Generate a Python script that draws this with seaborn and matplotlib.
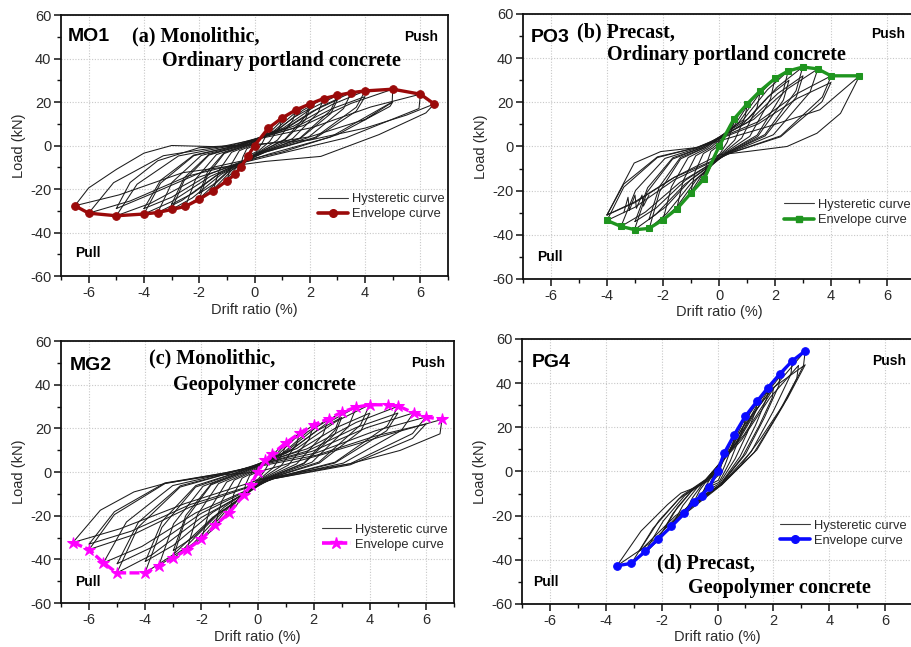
import matplotlib
matplotlib.use("Agg")
import matplotlib.pyplot as plt
import pandas as pd
import seaborn as sns
from matplotlib.lines import Line2D
from matplotlib.ticker import MultipleLocator

sns.set_style("ticks")
plt.rcParams["font.family"] = ["Liberation Sans", "DejaVu Sans"]
plt.rcParams["axes.unicode_minus"] = False

# ---------------- data: envelope curves ----------------
a_env_x = [-6.5, -6.0, -5.0, -4.0, -3.5, -3.0, -2.5, -2.0, -1.5, -1.0, -0.7, -0.5, -0.25, 0.0,
           0.5, 1.0, 1.5, 2.0, 2.5, 3.0, 3.5, 4.0, 5.0, 6.0, 6.5]
a_env_y = [-27.7, -31.1, -32.3, -31.5, -30.8, -29.4, -28.0, -24.7, -20.8, -16.2, -13.2, -10.1, -5.0, 0.0,
           8.0, 12.7, 16.4, 19.1, 21.6, 23.1, 24.3, 25.1, 25.9, 23.6, 19.1]

b_env_x = [-4.0, -3.5, -3.0, -2.5, -2.0, -1.5, -1.0, -0.53, 0.0, 0.53, 1.0, 1.48, 2.0, 2.47, 3.0, 3.53, 4.0, 5.0]
b_env_y = [-33.5, -36.2, -37.7, -37.1, -33.2, -28.2, -21.1, -14.6, 0.0, 12.4, 19.2, 25.3, 30.8, 34.2, 36.0, 35.1, 32.0, 32.0]

c_env_x = [-6.58, -6.0, -5.49, -5.01, -4.01, -3.52, -3.02, -2.52, -2.0, -1.51, -1.0, -0.5, -0.24, 0.0,
           0.27, 0.51, 1.01, 1.5, 2.0, 2.53, 3.0, 3.52, 3.99, 4.63, 5.02, 5.56, 6.0, 6.57]
c_env_y = [-32.3, -35.5, -41.6, -46.2, -46.2, -43.0, -39.6, -35.5, -30.9, -24.4, -18.6, -10.7, -6.1, 0.0,
           5.3, 8.1, 13.4, 17.8, 21.6, 24.4, 27.4, 29.7, 30.8, 30.8, 30.2, 27.1, 25.2, 24.1]

d_env_x = [-3.6, -3.08, -2.59, -2.12, -1.65, -1.19, -0.84, -0.57, -0.3, 0.0,
           0.24, 0.6, 0.99, 1.41, 1.81, 2.24, 2.68, 3.14]
d_env_y = [-42.7, -41.6, -36.2, -30.5, -24.9, -19.0, -13.6, -10.9, -7.1, 0.0,
           8.3, 16.6, 24.9, 31.7, 38.0, 44.3, 50.1, 54.6]

# ---------------- data: hysteretic loops (vertices) ----------------
a_loop_x = [
    [-0.5, -0.43, -0.28, -0.1, 0.18, 0.35, 0.5, 0.46, 0.28, 0.05, -0.2, -0.38, -0.5],
    [-1, -0.85, -0.55, -0.2, 0.35, 0.7, 1, 0.92, 0.55, 0.1, -0.4, -0.75, -1],
    [-1.5, -1.28, -0.83, -0.3, 0.53, 1.05, 1.5, 1.38, 0.83, 0.15, -0.6, -1.13, -1.5],
    [-2, -1.7, -1.1, -0.4, 0.7, 1.4, 2, 1.84, 1.1, 0.2, -0.8, -1.5, -2],
    [-2, -1.7, -1.1, -0.4, 0.7, 1.4, 2, 1.84, 1.1, 0.2, -0.8, -1.5, -2],
    [-2.5, -2.13, -1.38, -0.5, 0.88, 1.75, 2.5, 2.3, 1.38, 0.25, -1, -1.88, -2.5],
    [-3, -2.55, -1.65, -0.6, 1.05, 2.1, 3, 2.76, 1.65, 0.3, -1.2, -2.25, -3],
    [-3, -2.55, -1.65, -0.6, 1.05, 2.1, 3, 2.76, 1.65, 0.3, -1.2, -2.25, -3],
    [-3.5, -2.98, -1.93, -0.7, 1.23, 2.45, 3.5, 3.22, 1.93, 0.35, -1.4, -2.63, -3.5],
    [-4, -3.4, -2.2, -0.8, 1.4, 2.8, 4, 3.68, 2.2, 0.4, -1.6, -3, -4],
    [-4, -3.4, -2.2, -0.8, 1.4, 2.8, 4, 3.68, 2.2, 0.4, -1.6, -3, -4],
    [-5, -4.25, -2.75, -1, 1.75, 3.5, 5, 4.98, 2.75, 0.5, -2, -3.75, -5],
    [-6, -5.1, -3.3, -1.2, 2.1, 4.2, 6, 5.95, 3.3, 0.5, -2.4, -4.5, -6],
    [-6.5, -6, -5, -4, -3, -1.5, 0, 2, 4, 5.5, 6.5, 6.2, 4.5, 2.4, 0.4, -2.6, -4.9, -6.5],
    [-5, -4.5, -3.5, -2, 0, 2, 4, 5, 4.9, 3, 1, -1.5, -3.5, -5],
]
a_loop_y = [
    [-10, -5.5, -1.5, -0.5, 2.8, 6, 8, 5.6, 1.2, -3, -4.5, -8.2, -10],
    [-16.2, -8.9, -2.4, -0.5, 4.4, 9.5, 12.7, 8.9, 1.9, -3, -7.3, -13.3, -16.2],
    [-20.8, -11.4, -3.1, -0.5, 5.7, 12.3, 16.4, 11.5, 2.5, -3, -9.4, -17.1, -20.8],
    [-24.7, -13.6, -3.7, -0.5, 6.7, 14.3, 19.1, 13.4, 2.9, -3, -11.1, -20.3, -24.7],
    [-22, -12.1, -3.3, -0.5, 6, 12.8, 17, 11.9, 2.6, -3, -9.9, -18, -22],
    [-28, -15.4, -4.2, -0.5, 7.6, 16.2, 21.6, 15.1, 3.2, -3, -12.6, -23, -28],
    [-29.4, -16.2, -4.4, -0.5, 8.1, 17.3, 23.1, 16.2, 3.5, -3, -13.2, -24.1, -29.4],
    [-27, -14.9, -4.1, -0.5, 7.4, 15.8, 21, 14.7, 3.2, -3, -12.2, -22.1, -27],
    [-30.8, -16.9, -4.6, -0.5, 8.5, 18.2, 24.3, 17, 3.6, -3, -13.9, -25.3, -30.8],
    [-31.5, -17.3, -4.7, -0.5, 8.8, 18.8, 25.1, 17.6, 3.8, -3, -14.2, -25.8, -31.5],
    [-29, -16, -4.4, -0.5, 7.9, 16.9, 22.5, 15.8, 3.4, -3, -13, -23.8, -29],
    [-32.3, -17.8, -4.8, -0.5, 9.1, 19.4, 25.9, 20, 3.9, -4, -14.5, -26.5, -32.3],
    [-31.1, -17.1, -4.7, -0.5, 8.3, 17.7, 23.6, 17, 3.5, -5, -14, -25.5, -31.1],
    [-27.7, -19.5, -11, -3.5, 0, -0.5, 0.5, 2.5, 8, 14, 19.1, 15, 5, -5, -7.3, -12.5, -22.7, -27.7],
    [-29, -17, -7, -1, 0, 4, 12, 20, 18, 5, -3, -10, -21, -29],
]

b_loop_x = [
    [-0.53, -0.45, -0.29, -0.11, 0.19, 0.37, 0.53, 0.49, 0.29, 0.05, -0.21, -0.4, -0.53],
    [-1.01, -0.86, -0.56, -0.2, 0.35, 0.71, 1.01, 0.93, 0.56, 0.1, -0.4, -0.76, -1.01],
    [-1.51, -1.28, -0.83, -0.3, 0.52, 1.04, 1.48, 1.36, 0.81, 0.15, -0.6, -1.13, -1.51],
    [-2, -1.7, -1.1, -0.4, 0.7, 1.4, 2, 1.84, 1.1, 0.2, -0.8, -1.5, -2],
    [-2.49, -2.12, -1.37, -0.5, 0.86, 1.73, 2.47, 2.27, 1.36, 0.25, -1, -1.87, -2.49],
    [-2.5, -2.13, -1.38, -0.5, 0.88, 1.75, 2.5, 2.3, 1.38, 0.25, -1, -1.88, -2.5],
    [-3.02, -2.57, -1.66, -0.6, 1.05, 2.09, 2.99, 2.75, 1.64, 0.3, -1.21, -2.27, -3.02],
    [-3, -2.55, -1.65, -0.6, 1.05, 2.1, 3, 2.76, 1.65, 0.3, -1.2, -2.25, -3],
    [-3.5, -2.98, -1.93, -0.7, 1.24, 2.47, 3.53, 3.25, 1.94, 0.35, -1.4, -2.63, -3.5],
    [-4, -3.4, -2.2, -0.8, 1.4, 2.8, 4.01, 3.69, 2.2, 0.4, -1.6, -3, -4],
    [-4, -3.4, -2.2, -0.8, 1.4, 2.8, 4, 3.68, 2.2, 0.4, -1.6, -3, -4],
    [-4, -3.03, -2.08, -0.8, 1.75, 3.6, 5.02, 4.34, 3.5, 2.43, 1, 0, -1.6, -3, -4],
    [-3.4, -3.25, -3.2, -3.0, -2.95, -2.75, -2.7, -2.5],
]
b_loop_y = [
    [-14.6, -8, -2.2, -0.5, 4.3, 9.3, 12.4, 8.7, 1.9, -3, -6.6, -12, -14.6],
    [-21.1, -11.6, -3.2, -0.5, 6.7, 14.4, 19.2, 13.4, 2.9, -3, -9.5, -17.3, -21.1],
    [-28.2, -15.5, -4.2, -0.5, 8.9, 19, 25.3, 17.7, 3.8, -3, -12.7, -23.1, -28.2],
    [-33.2, -18.3, -5, -0.5, 10.8, 23.1, 30.8, 21.6, 4.6, -3, -14.9, -27.2, -33.2],
    [-37.1, -20.4, -5.6, -0.5, 12, 25.7, 34.2, 23.9, 5.1, -3, -16.7, -30.4, -37.1],
    [-33, -18.2, -5, -0.5, 10.5, 22.5, 30, 21, 4.5, -3, -14.9, -27.1, -33],
    [-37.7, -20.7, -5.7, -0.5, 12.6, 27, 36, 25.2, 5.4, -3, -17, -30.9, -37.7],
    [-34, -18.7, -5.1, -0.5, 11.2, 24, 32, 22.4, 4.8, -3, -15.3, -27.9, -34],
    [-36.2, -19.9, -5.4, -0.5, 12.3, 26.3, 35.1, 24.6, 5.3, -3, -16.3, -29.7, -36.2],
    [-33.5, -18.4, -5, -0.5, 11.2, 24, 32, 22.4, 4.8, -3, -15.1, -27.5, -33.5],
    [-31, -17, -4.7, -0.5, 10.2, 21.8, 29, 20.3, 4.4, -3, -14, -25.4, -31],
    [-31, -7.5, -2.3, -0.5, 9, 16.6, 32, 15, 6, 0, -2.3, -3.8, -14, -25, -31],
    [-30, -23, -29, -22, -28, -22, -27, -22],
]

c_loop_x = [
    [-0.5, -0.43, -0.28, -0.1, 0.18, 0.36, 0.51, 0.47, 0.28, 0.05, -0.2, -0.38, -0.5],
    [-1, -0.85, -0.55, -0.2, 0.35, 0.71, 1.01, 0.93, 0.56, 0.1, -0.4, -0.75, -1],
    [-1.51, -1.28, -0.83, -0.3, 0.53, 1.05, 1.5, 1.38, 0.83, 0.15, -0.6, -1.13, -1.51],
    [-2, -1.7, -1.1, -0.4, 0.7, 1.4, 2, 1.84, 1.1, 0.2, -0.8, -1.5, -2],
    [-2.52, -2.14, -1.39, -0.5, 0.89, 1.77, 2.53, 2.33, 1.39, 0.25, -1.01, -1.89, -2.52],
    [-3.02, -2.57, -1.66, -0.6, 1.05, 2.1, 3, 2.76, 1.65, 0.3, -1.21, -2.27, -3.02],
    [-3, -2.55, -1.65, -0.6, 1.05, 2.1, 3, 2.76, 1.65, 0.3, -1.2, -2.25, -3],
    [-3.52, -2.99, -1.94, -0.7, 1.23, 2.46, 3.52, 3.24, 1.94, 0.35, -1.41, -2.64, -3.52],
    [-4.01, -3.41, -2.21, -0.8, 1.4, 2.79, 3.99, 3.67, 2.19, 0.4, -1.6, -3.01, -4.01],
    [-4, -3.4, -2.2, -0.8, 1.4, 2.8, 4, 3.68, 2.2, 0.4, -1.6, -3, -4],
    [-5.01, -4.26, -2.76, -1, 1.76, 3.51, 5.02, 4.62, 2.76, 0.5, -2, -3.76, -5.01],
    [-5, -4.25, -2.75, -1, 1.75, 3.5, 5, 4.6, 2.75, 0.5, -2, -3.75, -5],
    [-5.49, -4.67, -3.02, -1.1, 1.95, 3.89, 5.56, 5.12, 3.06, 0.56, -2.2, -4.12, -5.49],
    [-6, -5.1, -3.3, -1.2, 2.1, 4.2, 6, 5.52, 3.3, 0.6, -2.4, -4.5, -6],
    [-6, -5.1, -3.3, -1.2, 2.1, 4.2, 6, 5.52, 3.3, 0.6, -2.4, -4.5, -6],
    [-6.58, -5.6, -4.4, -3.23, -1.45, 0, 2.3, 4.6, 6.57, 6.5, 5.08, 3.3, 1.52, 0, -2.6, -4.9, -6.58],
]
c_loop_y = [
    [-10.7, -5.9, -1.6, -0.5, 2.8, 6.1, 8.1, 5.7, 1.2, -3, -4.8, -8.8, -10.7],
    [-18.6, -10.2, -2.8, -0.5, 4.7, 10.1, 13.4, 9.4, 2, -3, -8.4, -15.3, -18.6],
    [-24.4, -13.4, -3.7, -0.5, 6.2, 13.4, 17.8, 12.5, 2.7, -3, -11, -20, -24.4],
    [-30.9, -17, -4.6, -0.5, 7.6, 16.2, 21.6, 15.1, 3.2, -3, -13.9, -25.3, -30.9],
    [-35.5, -19.5, -5.3, -0.5, 8.5, 18.3, 24.4, 17.1, 3.7, -3, -16, -29.1, -35.5],
    [-39.6, -21.8, -5.9, -0.5, 9.6, 20.6, 27.4, 19.2, 4.1, -3, -17.8, -32.5, -39.6],
    [-36, -19.8, -5.4, -0.5, 8.8, 18.8, 25, 17.5, 3.8, -3, -16.2, -29.5, -36],
    [-43, -23.7, -6.5, -0.5, 10.4, 22.3, 29.7, 20.8, 4.5, -3, -19.4, -35.3, -43],
    [-46.2, -25.4, -6.9, -0.5, 10.8, 23.1, 30.8, 21.6, 4.6, -3, -20.8, -37.9, -46.2],
    [-41, -22.6, -6.2, -0.5, 9.5, 20.3, 27, 18.9, 4.1, -3, -18.5, -33.6, -41],
    [-46.2, -25.4, -6.9, -0.5, 10.6, 22.7, 30.2, 21.1, 4.5, -3, -20.8, -37.9, -46.2],
    [-42, -23.1, -6.3, -0.5, 9.5, 20.3, 27, 18.9, 4.1, -3, -18.9, -34.4, -42],
    [-41.6, -22.9, -6.2, -0.5, 9.5, 20.3, 27.1, 19, 4.1, -3, -18.7, -34.1, -41.6],
    [-35.5, -19.5, -5.3, -0.5, 8.8, 18.9, 25.2, 17.6, 3.8, -3, -16, -29.1, -35.5],
    [-33, -18.2, -5, -0.5, 7.7, 16.5, 22, 15.4, 3.3, -3, -14.9, -27.1, -33],
    [-32.3, -17.5, -9.1, -5, -1.5, 0, 8, 17, 24.1, 17.5, 9.9, 3.8, 0, -3.8, -14.5, -26, -32.3],
]

d_loop_x = [
    [-0.3, -0.23, -0.14, -0.05, 0.07, 0.16, 0.24, 0.24, 0.18, 0.11, 0.01, -0.15, -0.24, -0.3],
    [-0.57, -0.43, -0.26, -0.09, 0.18, 0.39, 0.6, 0.59, 0.45, 0.27, 0.03, -0.29, -0.46, -0.57],
    [-0.84, -0.63, -0.38, -0.13, 0.3, 0.64, 0.99, 0.97, 0.74, 0.45, 0.05, -0.42, -0.67, -0.84],
    [-1.19, -0.89, -0.54, -0.18, 0.42, 0.92, 1.41, 1.38, 1.06, 0.63, 0.07, -0.6, -0.95, -1.19],
    [-1.65, -1.24, -0.74, -0.25, 0.54, 1.18, 1.81, 1.77, 1.36, 0.81, 0.09, -0.83, -1.32, -1.65],
    [-1.9, -1.43, -0.86, -0.29, 0.6, 1.3, 2, 1.96, 1.5, 0.9, 0.1, -0.95, -1.52, -1.9],
    [-2.12, -1.59, -0.95, -0.32, 0.67, 1.46, 2.24, 2.2, 1.68, 1.01, 0.11, -1.06, -1.7, -2.12],
    [-2.59, -1.94, -1.17, -0.39, 0.8, 1.74, 2.68, 2.63, 2.01, 1.21, 0.13, -1.3, -2.07, -2.59],
    [-2.8, -2.1, -1.26, -0.42, 0.87, 1.89, 2.9, 2.84, 2.18, 1.31, 0.15, -1.4, -2.24, -2.8],
    [-3.08, -2.31, -1.39, -0.46, 0.94, 2.04, 3.14, 3.08, 2.36, 1.41, 0.16, -1.54, -2.46, -3.08],
    [-3.6, -2.74, -1.79, -1.31, -0.84, -0.36, 0, 0.9, 2, 3.14, 3.14, 2.5, 1.55, 0.84, 0.12, -1.5, -2.7, -3.6],
]
d_loop_y = [
    [-7.1, -4.4, -2.1, -0.7, 2.5, 5.8, 8.3, 7.3, 4.6, 1.5, -2, -3.9, -6, -7.1],
    [-10.9, -6.8, -3.3, -1.1, 5, 11.6, 16.6, 14.6, 9.1, 3, -4, -6, -9.3, -10.9],
    [-13.6, -8.4, -4.1, -1.4, 7.5, 17.4, 24.9, 21.9, 13.7, 4.5, -5, -7.5, -11.6, -13.6],
    [-19, -11.8, -5.7, -1.9, 9.5, 22.2, 31.7, 27.9, 17.4, 5.7, -5.5, -10.5, -16.2, -19],
    [-24.9, -15.4, -7.5, -2.5, 11.4, 26.6, 38, 33.4, 20.9, 6.8, -6, -13.7, -21.2, -24.9],
    [-26, -16.1, -7.8, -2.6, 11.4, 26.6, 38, 33.4, 20.9, 6.8, -6, -14.3, -22.1, -26],
    [-30.5, -18.9, -9.2, -3.1, 13.3, 31, 44.3, 39, 24.4, 8, -6, -16.8, -25.9, -30.5],
    [-36.2, -22.4, -10.9, -3.6, 15, 35.1, 50.1, 44.1, 27.6, 9, -6, -19.9, -30.8, -36.2],
    [-36, -22.3, -10.8, -3.6, 14.4, 33.6, 48, 42.2, 26.4, 8.6, -6, -19.8, -30.6, -36],
    [-41.6, -25.8, -12.5, -4.2, 16.4, 38.2, 54.6, 48, 30, 9.8, -6, -22.9, -35.4, -41.6],
    [-42.7, -27, -15, -9.8, -7.5, -4.5, 0, 20, 38, 48.3, 48.3, 33, 15, 3, -6, -20, -35, -42.7],
]

# ---------------- text ----------------
specimens = ["MO1", "PO3", "MG2", "PG4"]
captions = [("(a) Monolithic,", "Ordinary portland concrete"),
            ("(b) Precast,", "Ordinary portland concrete"),
            ("(c) Monolithic,", "Geopolymer concrete"),
            ("(d) Precast,", "Geopolymer concrete")]
legend_labels = ["Hysteretic curve", "Envelope curve"]
x_label = "Drift ratio (%)"
y_label = "Load (kN)"


def loops_frame(xs, ys):
    rows = []
    for i, (lx, ly) in enumerate(zip(xs, ys)):
        for j, (x, y) in enumerate(zip(lx, ly)):
            rows.append((i, j, x, y))
    return pd.DataFrame(rows, columns=["loop", "k", "x", "y"])


panels = [
    dict(rect=[0.0670, 0.5734, 0.4248, 0.4034], lx=a_loop_x, ly=a_loop_y, ex=a_env_x, ey=a_env_y,
         color="#9b0a0a", marker="o", ms=5.5, ls="-",
         spec=(-6.75, 50.0), cap1=(-4.43, 50.0), cap2=(-3.34, 39.0), push=(6.65, 50.0, "right"),
         pull=(-6.5, -49.3), leg=(0.664, 0.318)),
    dict(rect=[0.5741, 0.5688, 0.4303, 0.4096], lx=b_loop_x, ly=b_loop_y, ex=b_env_x, ey=b_env_y,
         color="#1f951f", marker="s", ms=5.0, ls="-",
         spec=(-6.73, 49.5), cap1=(-5.06, 51.8), cap2=(-3.99, 41.5), push=(5.42, 50.8, "left"),
         pull=(-6.48, -50.0), leg=(0.666, 0.302)),
    dict(rect=[0.0670, 0.0680, 0.4314, 0.4049], lx=c_loop_x, ly=c_loop_y, ex=c_env_x, ey=c_env_y,
         color="#ff00ff", marker="*", ms=9.0, ls=(0, (3, 1)),
         spec=(-6.68, 48.9), cap1=(-3.87, 52.0), cap2=(-3.0, 40.0), push=(6.69, 50.0, "right"),
         pull=(-6.49, -50.2), leg=(0.663, 0.303)),
    dict(rect=[0.5730, 0.0665, 0.4292, 0.4096], lx=d_loop_x, ly=d_loop_y, ex=d_env_x, ey=d_env_y,
         color="#0a0aff", marker="o", ms=5.5, ls="-",
         spec=(-6.66, 49.5), cap1=(-2.15, -41.5), cap2=(-1.04, -52.8), push=(5.55, 49.8, "left"),
         pull=(-6.6, -50.2), leg=(0.66, 0.318)),
]

fig = plt.figure(figsize=(9.11, 6.47), dpi=100)
fig.patch.set_facecolor("white")

serif = ["Liberation Serif", "DejaVu Serif"]
for i, p in enumerate(panels):
    ax = fig.add_axes(p["rect"])
    df = loops_frame(p["lx"], p["ly"])
    sns.lineplot(data=df, x="x", y="y", units="loop", estimator=None, sort=False,
                 color="#1c1c1c", lw=0.75, ax=ax, legend=False)
    sns.lineplot(x=p["ex"], y=p["ey"], sort=False, estimator=None, color=p["color"], lw=2.4,
                 linestyle=p["ls"], marker=p["marker"], markersize=p["ms"],
                 markeredgecolor=p["color"], markerfacecolor=p["color"], ax=ax, legend=False)

    ax.set_xlim(-7, 7)
    ax.set_ylim(-60, 60)
    ax.xaxis.set_major_locator(MultipleLocator(2))
    ax.xaxis.set_minor_locator(MultipleLocator(1))
    ax.yaxis.set_major_locator(MultipleLocator(20))
    ax.yaxis.set_minor_locator(MultipleLocator(10))
    ax.grid(True, which="major", color="#c8c8c8", ls=(0, (1, 1.5)), lw=0.8)
    ax.set_axisbelow(True)
    for sp in ax.spines.values():
        sp.set_visible(True)
        sp.set_color("#111111")
        sp.set_linewidth(1.3)
    ax.tick_params(which="major", direction="out", length=5, width=1.1, labelsize=10.5,
                   labelcolor="#2a2a2a", color="#111111", pad=2)
    ax.tick_params(which="minor", direction="out", length=3, width=1.0, color="#111111")
    ax.set_xlabel(x_label, fontsize=10.5, color="#2a2a2a", labelpad=2)
    ax.set_ylabel(y_label, fontsize=10.5, color="#2a2a2a", labelpad=3)

    ax.text(*p["spec"], specimens[i], fontsize=14, fontweight="bold", ha="left", va="center",
            color="black")
    ax.text(*p["cap1"], captions[i][0], fontsize=14.5, fontweight="bold", ha="left", va="center",
            family=serif, color="black")
    ax.text(*p["cap2"], captions[i][1], fontsize=14.5, fontweight="bold", ha="left", va="center",
            family=serif, color="black")
    px, py, pha = p["push"]
    ax.text(px, py, "Push", fontsize=10, fontweight="bold", ha=pha, va="center", color="black")
    ax.text(*p["pull"], "Pull", fontsize=10, fontweight="bold", ha="left", va="center", color="black")

    handles = [Line2D([], [], color="#3a3a3a", lw=0.8),
               Line2D([], [], color=p["color"], lw=2.6, ls=p["ls"], marker=p["marker"],
                      markersize=p["ms"], markeredgecolor=p["color"], markerfacecolor=p["color"])]
    ax.legend(handles, legend_labels, loc="upper left", bbox_to_anchor=p["leg"], frameon=False,
              fontsize=9.3, handlelength=2.3, handletextpad=0.3, borderpad=0, borderaxespad=0,
              labelspacing=0.25, labelcolor="#2a2a2a")

fig.savefig("out.png", dpi=100, facecolor="white")
